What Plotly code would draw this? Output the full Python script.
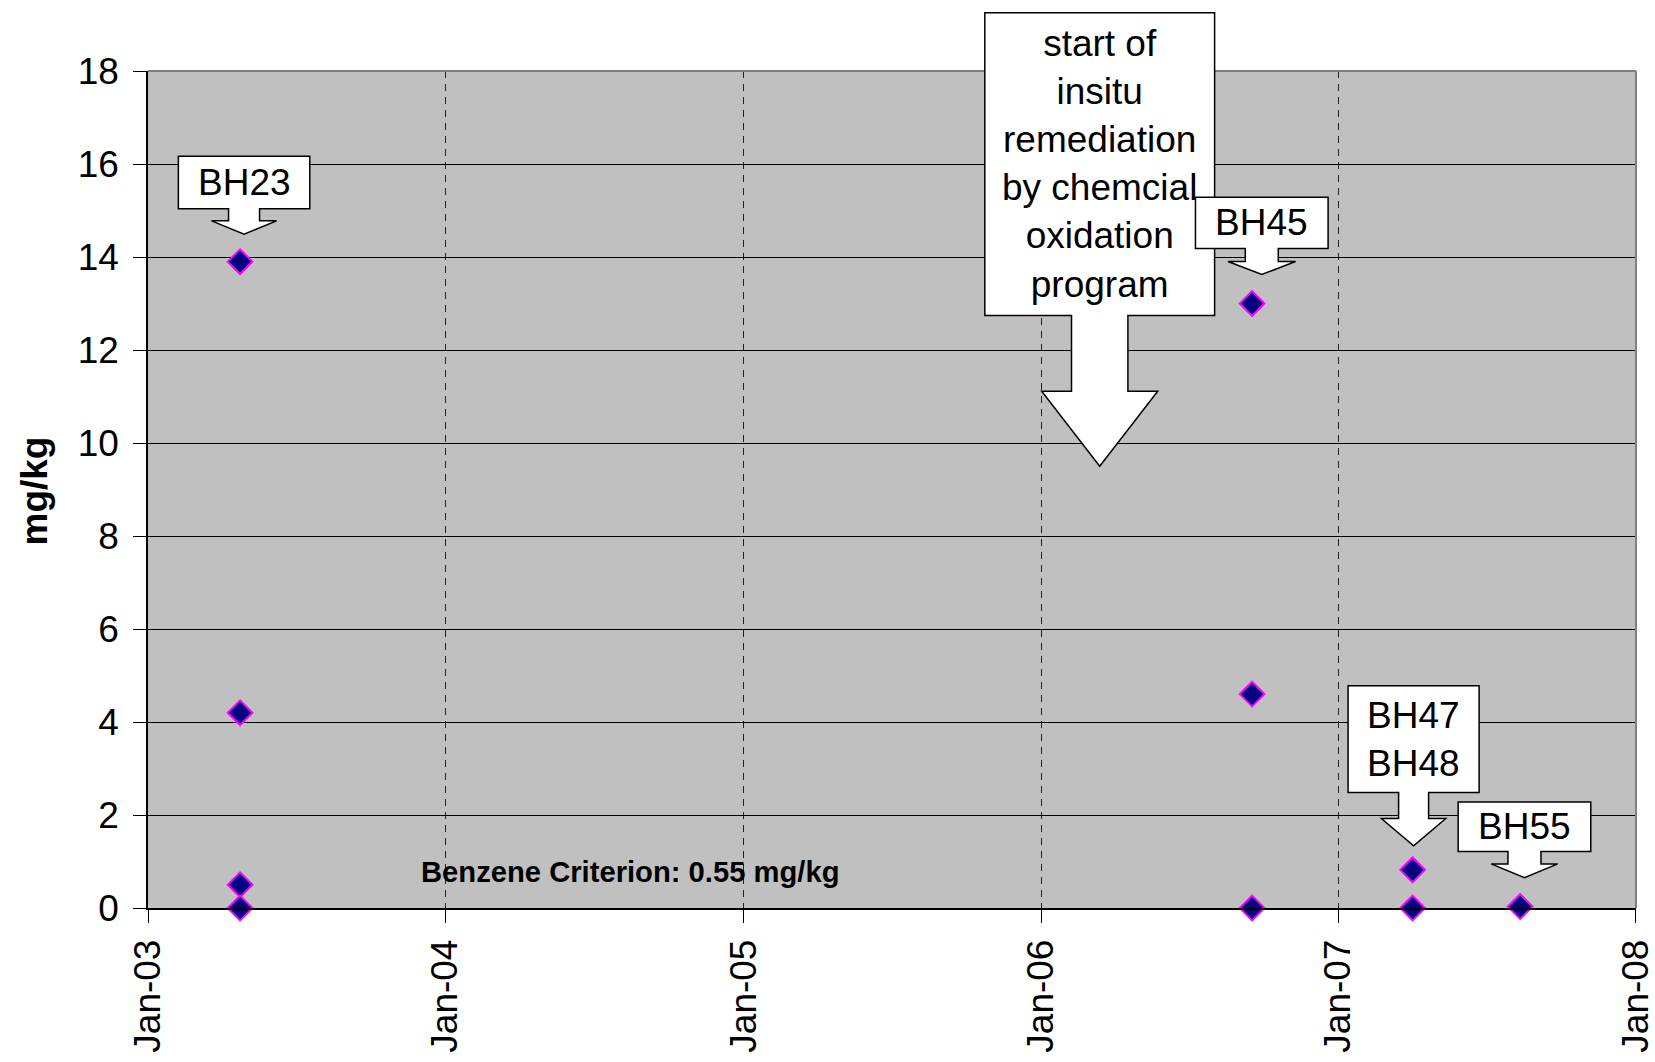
import plotly.graph_objects as go

# ---------------- data ----------------
sample_dates = ["2003-04-24", "2003-04-24", "2003-04-24", "2003-04-24",
                "2006-09-17", "2006-09-17", "2006-09-17",
                "2007-04-02", "2007-04-02",
                "2007-08-12"]
benzene_mgkg = [13.9, 4.2, 0.5, 0.0,
                13.0, 4.6, 0.0,
                0.82, 0.0,
                0.03]

# callout labels: (text, anchor date, anchor value)
label_texts = ["start of<br>insitu<br>remediation<br>by chemcial<br>oxidation<br>program",
               "BH23", "BH45", "BH47<br>BH48", "BH55"]
label_dates = ["2006-03-14", "2003-04-24", "2006-09-17", "2007-04-02", "2007-08-12"]
label_values = [9.5, 13.9, 13.0, 0.82, 0.03]

criterion_text = "Benzene Criterion: 0.55 mg/kg"
criterion_date = "2004-08-12"
criterion_value = 0.78

y_ticks = [0, 2, 4, 6, 8, 10, 12, 14, 16, 18]
x_tick_dates = ["2003-01-01", "2004-01-01", "2005-01-01", "2006-01-01",
                "2007-01-01", "2008-01-01"]
x_tick_labels = ["Jan-03", "Jan-04", "Jan-05", "Jan-06", "Jan-07", "Jan-08"]
x_range = ["2003-01-01", "2008-01-01 04:00"]
y_range = [0, 18]

# ---------------- callout geometry (pixels) ----------------
# tip dx, tip up, box half width, box height, shaft length, head length, shaft half width, wing half width
callout_geom = [
    (0, 0, 114.9, 302.7, 75.7, 75.0, 28.2, 58.0),
    (4, 27.5, 65.7, 52.6, 12.0, 13.3, 15.5, 32.5),
    (9.7, 29, 66.3, 51.3, 13.0, 13.0, 16.5, 33.8),
    (1, 24, 65.5, 106.7, 26.0, 27.3, 15.0, 32.2),
    (4.3, 29, 66.3, 49.7, 12.3, 13.7, 16.5, 33.3),
]

FONT = "Arial, Liberation Sans, sans-serif"

fig = go.Figure()
fig.add_trace(go.Scatter(
    x=sample_dates, y=benzene_mgkg, mode="markers", cliponaxis=False,
    marker=dict(symbol="diamond", size=19, color="#000080",
                line=dict(color="#FF00FF", width=2)),
    showlegend=False, hoverinfo="x+y"))

# gray border on top and right (drawn first so the callouts sit on top)
shapes = [
    dict(type="line", xref="paper", yref="paper", x0=0, x1=1, y0=1, y1=1,
         line=dict(color="#808080", width=2), layer="above"),
    dict(type="line", xref="paper", yref="paper", x0=1, x1=1, y0=0, y1=1,
         line=dict(color="#808080", width=2), layer="above"),
]
annotations = []
for text, d, v, g in zip(label_texts, label_dates, label_values, callout_geom):
    tdx, tup, bw, bh, shaft, head, sw, ww = g
    wy = tup + head
    bot = wy + shaft
    top = bot + bh
    pts = [(tdx - bw, top), (tdx + bw, top), (tdx + bw, bot), (tdx + sw, bot),
           (tdx + sw, wy), (tdx + ww, wy), (tdx, tup), (tdx - ww, wy),
           (tdx - sw, wy), (tdx - sw, bot), (tdx - bw, bot)]
    path = "M " + " L ".join(f"{px:.1f},{py:.1f}" for px, py in pts) + " Z"
    # y anchored in paper fraction so the shape is not clipped to the plot area
    v_paper = (v - y_range[0]) / (y_range[1] - y_range[0])
    shapes.append(dict(type="path", xref="x", yref="paper", xsizemode="pixel",
                       ysizemode="pixel", xanchor=d, yanchor=v_paper, path=path,
                       fillcolor="white", line=dict(color="black", width=1.5),
                       layer="above"))
    annotations.append(dict(x=d, y=v, xref="x", yref="y", text=text,
                            showarrow=False, xshift=tdx, yshift=bot + bh / 2,
                            xanchor="center", yanchor="middle",
                            font=dict(family=FONT, size=37, color="black")))

annotations.append(dict(x=criterion_date, y=criterion_value, xref="x", yref="y",
                        text="<b>" + criterion_text + "</b>", showarrow=False,
                        xanchor="center", yanchor="middle", xshift=2,
                        font=dict(family=FONT, size=29.2, color="black")))
annotations.append(dict(x=0, y=0.5, xref="paper", yref="paper", text="<b>mg/kg</b>",
                        showarrow=False, xshift=-114, yshift=-2, textangle=-90,
                        xanchor="center", yanchor="middle",
                        font=dict(family=FONT, size=37, color="black")))

fig.update_layout(
    width=1655, height=1062,
    margin=dict(l=148, r=19, t=71, b=154, autoexpand=False),
    paper_bgcolor="white", plot_bgcolor="#C0C0C0",
    shapes=shapes, annotations=annotations,
    font=dict(family=FONT, size=37, color="black"),
)
fig.update_xaxes(
    type="date", range=x_range, tickmode="array", tickvals=x_tick_dates,
    ticktext=x_tick_labels, ticklabeloverflow="allow",
    tickangle=-90, ticks="outside", ticklen=13, tickcolor="black", tickwidth=1,
    showline=True, linecolor="black", linewidth=1.5,
    showgrid=True, gridcolor="#222222", griddash="7px,6px", gridwidth=1,
    tickfont=dict(family=FONT, size=37, color="black"), automargin=False,
    ticklabelstandoff=2,
)
fig.update_yaxes(
    range=y_range, tickvals=y_ticks, ticks="outside", ticklen=13, tickcolor="black",
    showline=True, linecolor="black", linewidth=1.5, zeroline=False,
    showgrid=True, gridcolor="black", gridwidth=1,
    tickfont=dict(family=FONT, size=37, color="black"), automargin=False,
    ticklabelstandoff=7,
)

fig.write_html("out.html")
